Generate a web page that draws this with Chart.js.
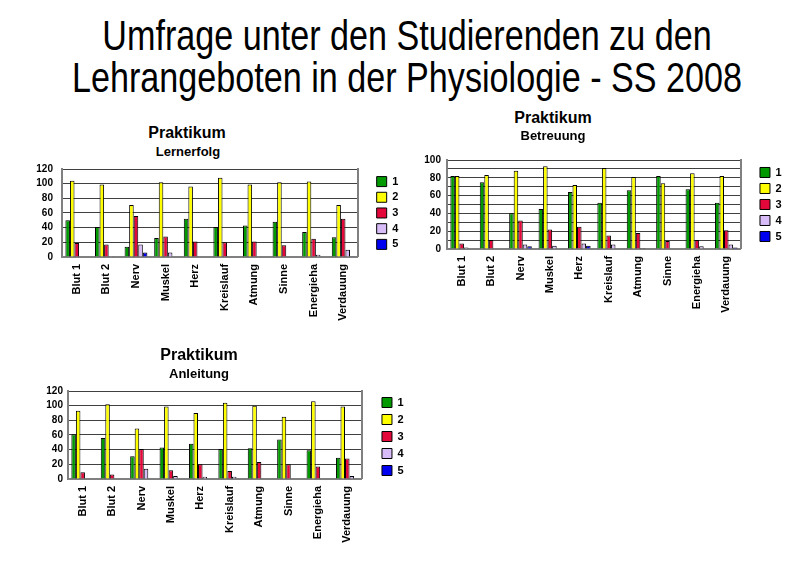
<!DOCTYPE html>
<html lang="de">
<head>
  <meta charset="UTF-8" />
  <title>Umfrage Physiologie SS 2008</title>
  <script src="https://cdn.jsdelivr.net/npm/chart.js"></script>
  <style>
    body {
      margin: 0;
      background: #fff;
      font-family: 'Liberation Sans', Arial, sans-serif;
    }
    #page {
      position: relative;
      width: 800px;
      height: 564px;
      overflow: hidden;
    }
    #mainTitle {
      position: absolute;
      left: -93px; top: 14px;
      width: 1000px;
      text-align: center;
      font-size: 43px;
      line-height: 42px;
      color: #000;
      transform: scaleX(0.794);
      transform-origin: 500px 0;
      white-space: nowrap;
    }
    .ct, .cs {
      position: absolute;
      width: 200px;
      text-align: center;
      font-weight: bold;
      color: #000;
    }
    .ct { font-size: 16px; line-height: 18px; }
    .cs { font-size: 13px; line-height: 15px; }
    canvas { position: absolute; }
  </style>
</head>
<body>
<div id="page">
  <div id="mainTitle">Umfrage unter den Studierenden zu den<br>Lehrangeboten in der Physiologie - SS 2008</div>

  <div class="ct" style="left:87px;top:124px">Praktikum</div>
  <div class="cs" style="left:88px;top:144px">Lernerfolg</div>
  <canvas id="c1" width="420" height="200" style="left:0;top:150px"></canvas>

  <div class="ct" style="left:453px;top:109px">Praktikum</div>
  <div class="cs" style="left:453px;top:128px">Betreuung</div>
  <canvas id="c2" width="400" height="200" style="left:400px;top:140px"></canvas>

  <div class="ct" style="left:99px;top:346px">Praktikum</div>
  <div class="cs" style="left:99px;top:366px">Anleitung</div>
  <canvas id="c3" width="420" height="194" style="left:0;top:370px"></canvas>
</div>

<script>
  const categories = ['Blut 1', 'Blut 2', 'Nerv', 'Muskel', 'Herz', 'Kreislauf', 'Atmung', 'Sinne', 'Energieha', 'Verdauung'];
  const seriesNames = ['1', '2', '3', '4', '5'];

  // Lernerfolg
  const lern1 = [50, 41, 14, 26, 52, 41, 43, 48, 34, 27];
  const lern2 = [104, 99, 71, 102, 96, 108, 99, 102, 103, 71];
  const lern3 = [19, 17, 56, 28, 21, 20, 21, 16, 25, 52];
  const lern4 = [0, 1, 17, 6, 1, 1, 1, 0, 3, 10];
  const lern5 = [0, 0, 6, 0, 0, 0, 0, 0, 0, 1];

  // Betreuung
  const betr1 = [82, 75, 40, 45, 64, 52, 66, 82, 67, 52];
  const betr2 = [82, 83, 88, 93, 72, 91, 81, 74, 85, 82];
  const betr3 = [6, 10, 32, 22, 25, 15, 18, 9, 10, 21];
  const betr4 = [1.5, 0, 5, 3.5, 6, 5, 1, 0, 3, 5];
  const betr5 = [0, 0, 3, 0, 3.5, 0, 0, 0, 0, 1.5];

  // Anleitung
  const anl1 = [61, 56, 31, 43, 48, 41, 42, 54, 39, 29];
  const anl2 = [93, 102, 69, 99, 90, 104, 100, 85, 106, 99];
  const anl3 = [9, 6, 41, 12, 20, 11, 23, 20, 17, 28];
  const anl4 = [0, 0, 14, 4, 3, 3, 0, 0, 1, 4];
  const anl5 = [0, 0, 0, 0, 0, 0, 0, 0, 0, 0];

  const colors = ['#009a00', '#ffff00', '#e4083a', '#d8bcf8', '#0000f0'];
  const FONT = "'Liberation Sans', Arial, sans-serif";

  function makeChart(id, series, yMax, yStep, labelEvery, pad, tickPad, legendPad, legendFull) {
    const datasets = series.map((vals, i) => ({
      label: seriesNames[i],
      data: vals,
      backgroundColor: colors[i],
      borderColor: '#000',
      borderWidth: 1,
      categoryPercentage: 0.77,
      barPercentage: 1.0
    }));
    return new Chart(document.getElementById(id), {
      type: 'bar',
      data: { labels: categories, datasets: datasets },
      options: {
        responsive: false,
        animation: false,
        layout: { padding: pad },
        plugins: {
          title: { display: false },
          tooltip: { enabled: false },
          legend: {
            position: 'right',
            fullSize: legendFull,
            align: legendFull ? 'start' : 'center',
            labels: {
              boxWidth: 10,
              boxHeight: 10,
              padding: legendPad,
              color: '#000',
              font: { family: FONT, size: 11, weight: 'bold' }
            }
          }
        },
        scales: {
          x: {
            grid: { display: false, drawTicks: false },
            border: { color: '#808080', width: 2 },
            ticks: {
              color: '#000',
              maxRotation: 90,
              minRotation: 90,
              autoSkip: false,
              padding: 7,
              font: { family: FONT, size: 11, weight: 'bold' }
            }
          },
          y: {
            min: 0,
            max: yMax,
            grid: { color: '#404040', drawTicks: false },
            border: { color: '#808080', width: 2 },
            ticks: {
              stepSize: yStep,
              autoSkip: false,
              color: '#000',
              padding: tickPad,
              font: { family: FONT, size: 10, weight: 'bold' },
              callback: v => (v % labelEvery === 0 ? v : '')
            }
          },
          // leeres Achsenstueck rechts: Rahmenlinie + Abstand zur Legende
          y2: {
            position: 'right',
            grid: { display: false, drawTicks: false },
            border: { color: '#808080', width: 2 },
            ticks: { display: false },
            afterFit: s => { s.width = 14; }
          }
        }
      }
    });
  }

  makeChart('c1', [lern1, lern2, lern3, lern4, lern5], 120, 20, 20,
    { top: 19, left: 27.3, right: 11.7, bottom: 22.2 }, 9, 4.7, false);
  makeChart('c2', [betr1, betr2, betr3, betr4, betr5], 100, 10, 20,
    { top: 20, left: 18.3, right: 8.4, bottom: 20.2 }, 6, 5, false);
  makeChart('c3', [anl1, anl2, anl3, anl4, anl5], 120, 20, 20,
    { top: 21, left: 41.3, right: 6.4, bottom: 14.2 }, 5, 6, true);
</script>
</body>
</html>
